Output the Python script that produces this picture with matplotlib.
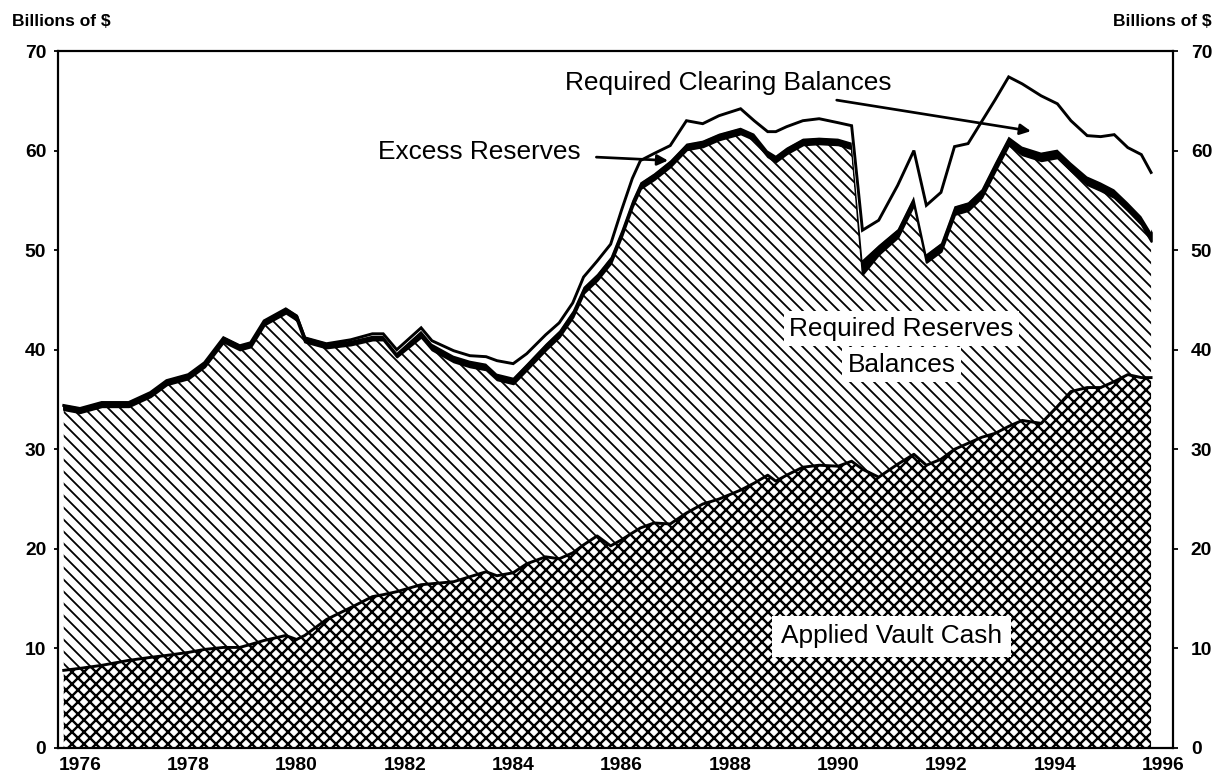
import matplotlib
matplotlib.use("Agg")
import matplotlib.pyplot as plt
import matplotlib.transforms as mtransforms
import numpy as np

plt.rcParams['font.family'] = ['Liberation Sans', 'DejaVu Sans']

# ---- data (decimal years, billions of $) ----
years = [1975.7, 1976.0, 1976.4, 1976.9, 1977.3, 1977.6, 1978.0, 1978.3, 1978.65, 1978.95,
         1979.15, 1979.4, 1979.8, 1980.0, 1980.15, 1980.55, 1981.0, 1981.4, 1981.6, 1981.85,
         1982.3, 1982.5, 1982.9, 1983.2, 1983.5, 1983.7, 1984.0, 1984.25, 1984.6, 1984.85,
         1985.1, 1985.3, 1985.55, 1985.8, 1986.0, 1986.2, 1986.35, 1986.6, 1986.9, 1987.2,
         1987.5, 1987.8, 1988.2, 1988.45, 1988.7, 1988.85, 1989.05, 1989.35, 1989.65, 1990.0,
         1990.25, 1990.45, 1990.75, 1991.1, 1991.4, 1991.63, 1991.9, 1992.15, 1992.4, 1992.65,
         1992.9, 1993.15, 1993.4, 1993.75, 1994.05, 1994.3, 1994.6, 1994.85, 1995.1, 1995.35,
         1995.6, 1995.78]

# Applied vault cash (level)
vault_cash = [7.8, 8.0, 8.3, 8.8, 9.1, 9.3, 9.6, 9.9, 10.1, 10.1,
              10.4, 10.8, 11.3, 10.9, 11.3, 12.9, 14.1, 15.2, 15.4, 15.7,
              16.4, 16.5, 16.7, 17.2, 17.7, 17.3, 17.6, 18.5, 19.2, 19.0,
              19.6, 20.4, 21.3, 20.3, 20.9, 21.6, 22.1, 22.6, 22.5, 23.6,
              24.5, 25.0, 25.9, 26.6, 27.4, 26.8, 27.4, 28.2, 28.4, 28.3,
              28.8, 28.0, 27.2, 28.5, 29.5, 28.4, 29.0, 30.0, 30.6, 31.2,
              31.6, 32.3, 32.9, 32.6, 34.3, 35.8, 36.2, 36.2, 36.8, 37.5,
              37.2, 37.2]

# Required reserves total (vault cash + required reserve balances)
required_total = [34.0, 33.7, 34.3, 34.3, 35.3, 36.5, 37.1, 38.3, 40.8, 40.0,
                  40.3, 42.5, 43.7, 43.0, 40.8, 40.2, 40.5, 41.0, 41.0, 39.3,
                  41.3, 40.0, 38.8, 38.3, 38.0, 37.0, 36.6, 38.0, 40.0, 41.3,
                  43.3, 45.7, 47.0, 48.7, 51.4, 54.4, 56.2, 57.1, 58.4, 60.1,
                  60.4, 61.1, 61.7, 61.1, 59.4, 58.9, 59.7, 60.6, 60.7, 60.6,
                  60.2, 47.6, 49.6, 51.3, 54.6, 48.8, 49.9, 53.6, 54.0, 55.3,
                  58.0, 60.6, 59.6, 59.0, 59.3, 58.0, 56.6, 56.0, 55.3, 54.0,
                  52.6, 50.9]

# Excess reserves (band thickness)
excess_reserves = [0.4] * 20 + [0.6] * 31 + [1.4, 0.9] + [0.8] * 18 + [0.9]

# Required clearing balances (band thickness)
clearing_balances = [0.0] * 16 + [0.1, 0.2, 0.2, 0.3,
                     0.3, 0.3, 0.5, 0.5, 0.7, 1.3, 1.4, 1.0, 0.9, 0.8,
                     0.8, 1.0, 1.3, 1.3, 2.0, 2.2, 2.2, 2.0, 1.5, 2.3,
                     1.7, 1.8, 1.9, 1.3, 1.9, 2.4, 2.1, 1.8, 1.9, 1.6,
                     1.7, 3.0, 2.5, 4.4, 4.6, 4.9, 5.1, 6.0, 5.9, 6.8,
                     6.3, 6.0, 6.3, 5.7, 4.6, 4.2, 4.1, 4.6, 5.5, 5.5,
                     6.2, 6.0]

tick_years = [1976, 1978, 1980, 1982, 1984, 1986, 1988, 1990, 1992, 1994, 1996]
y_ticks = [0, 10, 20, 30, 40, 50, 60, 70]

# ---- derived levels ----
x = np.array(years)
vc = np.array(vault_cash)
req = np.array(required_total)
tot = req + np.array(excess_reserves)
top = tot + np.array(clearing_balances)

W, H, DPI = 1215, 772, 144


def pt(px):
    """pixel size -> points at the output dpi"""
    return px * 72.0 / DPI


fig = plt.figure(figsize=(W / DPI, H / DPI), dpi=DPI)
ax = fig.add_axes([58 / W, 1 - 748 / H, (1173 - 58) / W, (748 - 51) / H])


def hatch_lw(coll, lw):
    if hasattr(coll, "set_hatch_linewidth"):
        coll.set_hatch_linewidth(lw)


# Applied vault cash: cross-hatch
plt.rcParams['hatch.linewidth'] = pt(2.4)
c1 = ax.fill_between(x, 0, vc, facecolor='white', edgecolor='black', hatch='xxxx', linewidth=0, zorder=1)
hatch_lw(c1, pt(2.4))
# Required reserve balances: diagonal hatch
plt.rcParams['hatch.linewidth'] = pt(1.8)
c2 = ax.fill_between(x, vc, req, facecolor='white', edgecolor='black', hatch='\\\\\\\\', linewidth=0, zorder=1)
hatch_lw(c2, pt(1.8))
# Excess reserves: solid black band
ax.fill_between(x, req, tot, facecolor='black', edgecolor='black', linewidth=pt(2.4), zorder=2)
# Required clearing balances: white band bounded by line
ax.fill_between(x, tot, top, facecolor='white', linewidth=0, zorder=2)
ax.plot(x, top, color='black', lw=pt(2.9), zorder=3, solid_joinstyle='miter')
ax.plot(x, vc, color='black', lw=pt(2.9), zorder=3)

ax.set_xlim(1975.594, 1996.185)
ax.set_ylim(0, 70)
ax.set_xticks(tick_years)
ax.set_xticklabels([str(t) for t in tick_years], fontsize=pt(19.3), fontweight='bold')
ax.set_yticks(y_ticks)
ax.set_yticklabels([str(t) for t in y_ticks], fontsize=pt(19.3), fontweight='bold')
ax.tick_params(axis='x', length=0, pad=pt(9))
ax.tick_params(axis='y', which='both', left=True, right=True, labelleft=True, labelright=True,
               direction='out', length=pt(4.5), width=pt(1.8), pad=pt(7.3))
for t in ax.yaxis.get_major_ticks():
    t.label1.set_fontweight('bold')
    t.label2.set_fontweight('bold')
    t.label2.set_fontsize(pt(19.3))
    t.label2.set_transform(t.label2.get_transform() +
                           mtransforms.ScaledTranslation(6 / DPI, 0, fig.dpi_scale_trans))
for s in ax.spines.values():
    s.set_linewidth(pt(2.2))
    s.set_zorder(5)

fig.text(12 / W, 1 - 22 / H, 'Billions of $', fontsize=pt(17.4), fontweight='bold', ha='left', va='center')
fig.text(1212 / W, 1 - 22 / H, 'Billions of $', fontsize=pt(17.4), fontweight='bold', ha='right', va='center')

# annotations
ann_fs = pt(26.2)
arrow = dict(arrowstyle='-|>', color='black', lw=pt(2.7), mutation_scale=pt(22))
ax.annotate('Required Clearing Balances', xy=(1993.56, 61.95), xytext=(1987.98, 66.8),
            fontsize=ann_fs, ha='center', va='center',
            arrowprops=dict(arrow, shrinkA=4, shrinkB=0), zorder=6)
ax.annotate('Excess Reserves', xy=(1986.86, 59.0), xytext=(1983.37, 59.9),
            fontsize=ann_fs, ha='center', va='center',
            arrowprops=dict(arrow, shrinkA=6, shrinkB=0), zorder=6)
ax.text(1991.17, 42.1, 'Required Reserves', fontsize=ann_fs, ha='center', va='center', zorder=6,
        bbox=dict(facecolor='white', edgecolor='none', pad=pt(5.5)))
ax.text(1991.17, 38.5, 'Balances', fontsize=ann_fs, ha='center', va='center', zorder=6,
        bbox=dict(facecolor='white', edgecolor='none', pad=pt(5.5)))
ax.text(1990.98, 11.2, 'Applied Vault Cash', fontsize=ann_fs, ha='center', va='center', zorder=6,
        bbox=dict(facecolor='white', edgecolor='none', pad=pt(9)))

fig.savefig('out.png', dpi=DPI)
